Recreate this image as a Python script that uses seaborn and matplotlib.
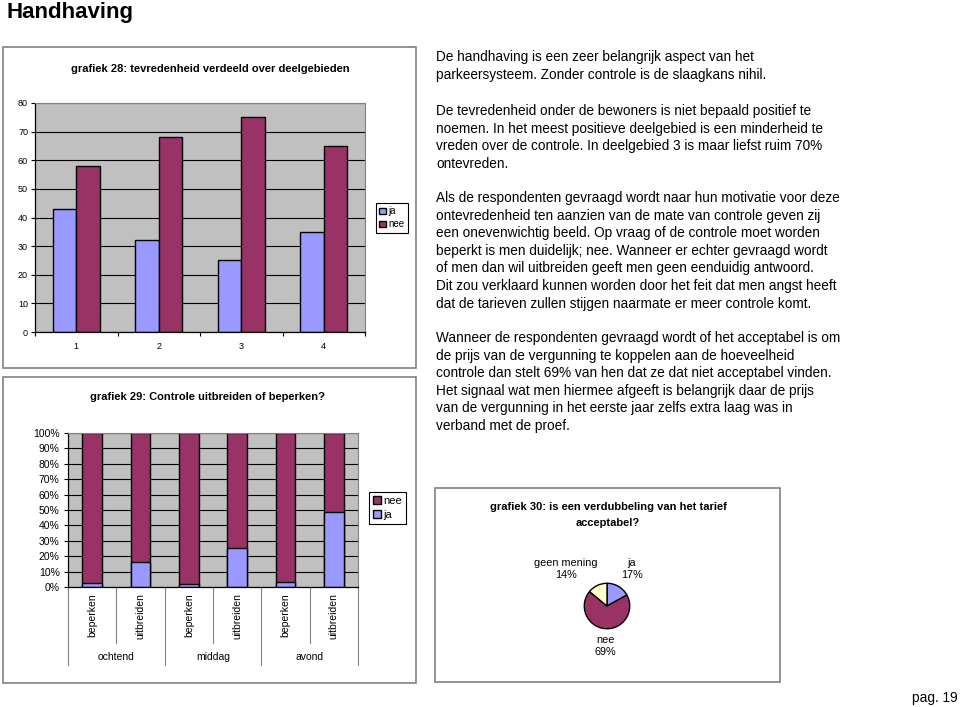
import matplotlib
matplotlib.use("Agg")
import matplotlib.pyplot as plt
from matplotlib.patches import Patch, Rectangle
from matplotlib.ticker import FixedLocator
import pandas as pd
import seaborn as sns

# grafiek 28: tevredenheid per deelgebied (percentages)
deelgebieden = ["1", "2", "3", "4"]
tevreden_ja = [43, 32, 25, 35]
tevreden_nee = [58, 68, 75, 65]

# grafiek 29: controle uitbreiden of beperken (aandeel ja, in %)
dagdelen = ["ochtend", "middag", "avond"]
keuzes = ["beperken", "uitbreiden"]
controle_ja = [2.5, 16.5, 2.2, 25.5, 3.0, 48.8]
controle_nee = [97.5, 83.5, 97.8, 74.5, 97.0, 51.2]

# grafiek 30: verdubbeling tarief acceptabel?
tarief_labels = ["ja", "nee", "geen mening"]
tarief_pct = [17, 69, 14]

body_paragraphs = [
    ["De handhaving is een zeer belangrijk aspect van het",
     "parkeersysteem. Zonder controle is de slaagkans nihil."],
    ["De tevredenheid onder de bewoners is niet bepaald positief te",
     "noemen. In het meest positieve deelgebied is een minderheid te",
     "vreden over de controle. In deelgebied 3 is maar liefst ruim 70%",
     "ontevreden."],
    ["Als de respondenten gevraagd wordt naar hun motivatie voor deze",
     "ontevredenheid ten aanzien van de mate van controle geven zij",
     "een onevenwichtig beeld. Op vraag of de controle moet worden",
     "beperkt is men duidelijk; nee. Wanneer er echter gevraagd wordt",
     "of men dan wil uitbreiden geeft men geen eenduidig antwoord.",
     "Dit zou verklaard kunnen worden door het feit dat men angst heeft",
     "dat de tarieven zullen stijgen naarmate er meer controle komt."],
    ["Wanneer de respondenten gevraagd wordt of het acceptabel is om",
     "de prijs van de vergunning te koppelen aan de hoeveelheid",
     "controle dan stelt 69% van hen dat ze dat niet acceptabel vinden.",
     "Het signaal wat men hiermee afgeeft is belangrijk daar de prijs",
     "van de vergunning in het eerste jaar zelfs extra laag was in",
     "verband met de proef."],
]
paragraph_starts = [57, 111, 198, 338]

W, H = 960, 707
JA = "#9999FF"
NEE = "#993366"
GEEN = "#FFFFCC"
PLOT_BG = "#C0C0C0"
FRAME = "#808080"

sns.set_style("white")
plt.rcParams["font.family"] = ["Liberation Sans", "DejaVu Sans"]
plt.rcParams["text.color"] = "black"
plt.rcParams["xtick.color"] = "black"
plt.rcParams["ytick.color"] = "black"
plt.rcParams["axes.labelcolor"] = "black"


def box(x0, y0, x1, y1):
    return [x0 / W, 1 - y1 / H, (x1 - x0) / W, (y1 - y0) / H]


def frame(fig, x0, y0, x1, y1):
    fig.add_artist(Rectangle((x0 / W, 1 - y1 / H), (x1 - x0) / W, (y1 - y0) / H,
                             transform=fig.transFigure, fill=False,
                             edgecolor=FRAME, linewidth=1.2))


def excel_axes(ax):
    ax.set_facecolor(PLOT_BG)
    ax.set_axisbelow(True)
    ax.yaxis.grid(True, color="black", linewidth=0.8)
    ax.xaxis.grid(False)
    for side in ["left", "bottom"]:
        ax.spines[side].set_color("black")
        ax.spines[side].set_linewidth(0.9)
    for side in ["top", "right"]:
        ax.spines[side].set_color(FRAME)
        ax.spines[side].set_linewidth(0.8)
    ax.set_xlabel("")
    ax.set_ylabel("")


fig = plt.figure(figsize=(W / 100, H / 100), dpi=100)

fig.text(7 / W, 1 - 18 / H, "Handhaving", fontsize=16, fontweight="bold",
         ha="left", va="baseline")
fig.text(958 / W, 1 - 698 / H, "pag. 19", fontsize=9.8, ha="right", va="center")

# ---- grafiek 28
frame(fig, 3, 47, 416, 368)
fig.text(210 / W, 1 - 69 / H, "grafiek 28: tevredenheid verdeeld over deelgebieden",
         fontsize=8, fontweight="bold", ha="center", va="center")
ax1 = fig.add_axes(box(35, 103, 365, 332))
df1 = pd.DataFrame({
    "deelgebied": deelgebieden * 2,
    "antwoord": ["ja"] * len(deelgebieden) + ["nee"] * len(deelgebieden),
    "pct": tevreden_ja + tevreden_nee,
})
sns.barplot(data=df1, x="deelgebied", y="pct", hue="antwoord", order=deelgebieden,
            hue_order=["ja", "nee"], palette={"ja": JA, "nee": NEE}, saturation=1,
            width=0.57, edgecolor="black", linewidth=1, legend=False, ax=ax1)
excel_axes(ax1)
ax1.set_xlim(-0.5, len(deelgebieden) - 0.5)
ax1.set_ylim(0, 80)
ax1.set_yticks(range(0, 81, 10))
ax1.tick_params(axis="y", labelsize=6.5, length=3, width=0.8, direction="out",
                left=True, pad=2)
ax1.xaxis.set_minor_locator(FixedLocator([i - 0.5 for i in range(len(deelgebieden) + 1)]))
ax1.tick_params(axis="x", which="major", length=0, labelsize=6.5, pad=7)
ax1.tick_params(axis="x", which="minor", length=3, width=0.8, direction="out", bottom=True)
ax1.legend(handles=[Patch(facecolor=JA, edgecolor="black"), Patch(facecolor=NEE, edgecolor="black")],
           labels=["ja", "nee"], loc="upper left", bbox_to_anchor=(376 / W, 1 - 203 / H),
           bbox_transform=fig.transFigure, fontsize=7, frameon=True, fancybox=False,
           edgecolor="black", framealpha=1, handlelength=0.7, handleheight=0.7,
           handletextpad=0.2, borderpad=0.35, labelspacing=0.3, borderaxespad=0)
ax1.get_legend().get_frame().set_linewidth(0.8)

# ---- grafiek 29
frame(fig, 3, 377, 416, 683)
fig.text(208 / W, 1 - 397 / H, "grafiek 29: Controle uitbreiden of beperken?",
         fontsize=8, fontweight="bold", ha="center", va="center")
ax2 = fig.add_axes(box(68, 433, 358, 587))
cats = [f"{d} {k}" for d in dagdelen for k in keuzes]
df2 = pd.DataFrame({
    "cat": cats,
    "ja": controle_ja,
    "totaal": [j + n for j, n in zip(controle_ja, controle_nee)],
})
sns.barplot(data=df2, x="cat", y="totaal", order=cats, color=NEE, saturation=1,
            width=0.4, edgecolor="black", linewidth=1, ax=ax2)
sns.barplot(data=df2, x="cat", y="ja", order=cats, color=JA, saturation=1,
            width=0.4, edgecolor="black", linewidth=1, ax=ax2)
excel_axes(ax2)
ax2.set_xlim(-0.5, len(cats) - 0.5)
ax2.set_ylim(0, 100)
ax2.set_yticks(range(0, 101, 10))
ax2.set_yticklabels([f"{v}%" for v in range(0, 101, 10)])
ax2.tick_params(axis="y", labelsize=7.5, length=3, width=0.8, direction="out",
                left=True, pad=3)
ax2.set_xticks(range(len(cats)))
ax2.set_xticklabels([k for d in dagdelen for k in keuzes], rotation=90, va="top")
ax2.tick_params(axis="x", length=0, labelsize=7.5, pad=4.5)
xt = ax2.get_xaxis_transform()
bottom_px = 587
for i in range(len(cats) + 1):
    edge = i - 0.5
    end_px = 665 if i % 2 == 0 else 643
    ax2.plot([edge, edge], [0, -(end_px - bottom_px) / (587 - 433)], transform=xt,
             color=FRAME, linewidth=0.8, clip_on=False)
for g, dag in enumerate(dagdelen):
    ax2.text(2 * g + 0.5, -(657 - bottom_px) / (587 - 433), dag, transform=xt,
             ha="center", va="center", fontsize=7.5)
ax2.legend(handles=[Patch(facecolor=NEE, edgecolor="black"), Patch(facecolor=JA, edgecolor="black")],
           labels=["nee", "ja"], loc="upper left", bbox_to_anchor=(369 / W, 1 - 492 / H),
           bbox_transform=fig.transFigure, fontsize=8, frameon=True, fancybox=False,
           edgecolor="black", framealpha=1, handlelength=0.7, handleheight=0.7,
           handletextpad=0.25, borderpad=0.35, labelspacing=0.35, borderaxespad=0)
ax2.get_legend().get_frame().set_linewidth(0.8)

# ---- tekst rechts
for start, lines in zip(paragraph_starts, body_paragraphs):
    for i, line in enumerate(lines):
        fig.text(436 / W, 1 - (start + i * 17.6) / H, line, fontsize=9.85,
                 ha="left", va="center")

# ---- grafiek 30
frame(fig, 435, 488, 780, 682)
fig.text(608 / W, 1 - 507 / H, "grafiek 30: is een verdubbeling van het tarief",
         fontsize=8, fontweight="bold", ha="center", va="center")
fig.text(608 / W, 1 - 523 / H, "acceptabel?", fontsize=8, fontweight="bold",
         ha="center", va="center")
ax3 = fig.add_axes(box(607 - 25, 606 - 25, 607 + 25, 606 + 25))
ax3.pie(tarief_pct, colors=[JA, NEE, GEEN], startangle=90, counterclock=False,
        wedgeprops={"edgecolor": "black", "linewidth": 1})
ax3.set_xlim(-1.1, 1.1)
ax3.set_ylim(-1.1, 1.1)
ax3.set_aspect("equal")
ax3.axis("off")
label_pos = {"ja": (632, 569), "nee": (605, 646), "geen mening": (566, 569)}
for lab, pct in zip(tarief_labels, tarief_pct):
    px, py = label_pos[lab]
    fig.text(px / W, 1 - py / H, f"{lab}\n{pct}%", fontsize=7.8, ha="center",
             va="center", linespacing=1.35)

fig.savefig("out.png", dpi=100)
